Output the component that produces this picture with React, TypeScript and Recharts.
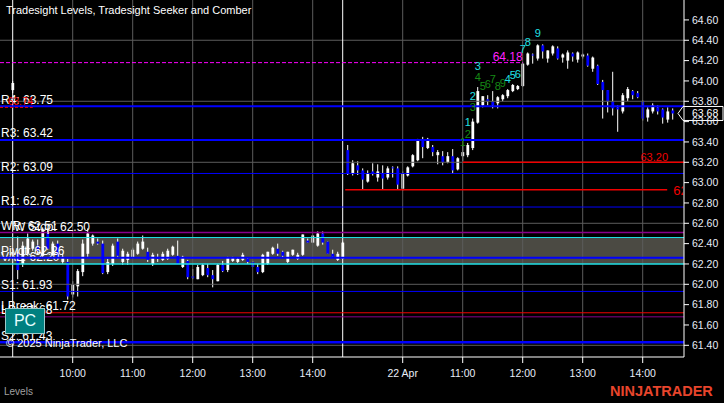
import React from 'react';
import { ComposedChart, Bar, Scatter, XAxis, YAxis, ReferenceLine, ReferenceArea } from 'recharts';

// ---- bar data (5-minute bars, index 0 = prior session last bar) ----
const opens = [
  63.91,
  62.30, 62.20, 62.30, 62.35, 62.38, 62.28, 62.50, 62.30, 62.40, 62.22, 62.22, 61.90, 61.98, 62.12, 62.30, 62.40, 62.42, 62.40, 62.12, 62.20, 62.42, 62.22,
  62.24, 62.26, 62.30, 62.35, 62.32, 62.20, 62.27, 62.24, 62.25, 62.29, 62.28, 62.17, 62.23, 62.08, 62.05, 62.09, 62.16, 62.09, 62.03, 62.19, 62.14, 62.23,
  62.22, 62.24, 62.25, 62.22, 62.17, 62.12, 62.20, 62.30, 62.35, 62.32, 62.22, 62.29, 62.25, 62.29, 62.43, 62.41, 62.38, 62.50, 62.42, 62.30, 62.24, 62.25,
  63.32, 63.09, 63.17, 63.12, 63.01, 63.11, 63.05, 63.09, 63.05, 63.15, 63.14, 62.94, 63.07, 63.16, 63.22, 63.42, 63.34, 63.35, 63.27, 63.26, 63.20, 63.26,
  63.13, 63.26, 63.27, 63.34, 63.59, 63.76, 63.82, 63.80, 63.78, 63.82, 63.85, 63.90, 63.92, 63.95, 64.16, 64.26, 64.22, 64.35, 64.22, 64.27, 64.32, 64.23,
  64.20, 64.27, 64.21, 64.24, 64.25, 64.12, 64.15, 63.99, 63.91, 63.80, 63.74, 63.70, 63.83, 63.90, 63.88, 63.80, 63.64, 63.70, 63.74, 63.72, 63.62, 63.71,
];
const highs = [
  64.00,
  62.47, 62.42, 62.50, 62.44, 62.44, 62.56, 62.55, 62.42, 62.43, 62.30, 62.25, 62.03, 62.15, 62.44, 62.55, 62.49, 62.45, 62.43, 62.25, 62.40, 62.45, 62.35,
  62.32, 62.36, 62.42, 62.48, 62.36, 62.31, 62.30, 62.32, 62.35, 62.38, 62.43, 62.28, 62.24, 62.15, 62.19, 62.20, 62.20, 62.14, 62.20, 62.23, 62.27, 62.27,
  62.26, 62.31, 62.26, 62.23, 62.20, 62.30, 62.32, 62.37, 62.40, 62.33, 62.32, 62.34, 62.31, 62.49, 62.45, 62.48, 62.52, 62.52, 62.42, 62.34, 62.32, 62.42,
  63.37, 63.22, 63.21, 63.14, 63.12, 63.19, 63.18, 63.17, 63.16, 63.16, 63.16, 63.11, 63.16, 63.28, 63.43, 63.45, 63.44, 63.37, 63.32, 63.31, 63.30, 63.33,
  63.25, 63.37, 63.39, 63.63, 63.94, 63.85, 63.86, 63.90, 63.85, 63.87, 63.92, 63.97, 63.96, 64.18, 64.28, 64.27, 64.36, 64.36, 64.30, 64.35, 64.34, 64.27,
  64.30, 64.28, 64.29, 64.27, 64.27, 64.24, 64.16, 64.01, 63.91, 64.09, 63.76, 63.88, 63.94, 63.91, 63.90, 63.81, 63.74, 63.78, 63.76, 63.73, 63.74, 63.73,
];
const lows = [
  63.88,
  62.05, 62.17, 62.28, 62.33, 62.30, 62.26, 62.34, 62.28, 62.25, 62.20, 61.85, 61.87, 61.88, 62.08, 62.27, 62.38, 62.39, 62.10, 62.10, 62.18, 62.27, 62.19,
  62.19, 62.25, 62.29, 62.34, 62.22, 62.18, 62.22, 62.23, 62.24, 62.28, 62.20, 62.16, 62.05, 62.05, 62.05, 62.08, 62.07, 61.97, 62.03, 62.12, 62.12, 62.22,
  62.21, 62.23, 62.20, 62.17, 62.10, 62.11, 62.19, 62.29, 62.28, 62.26, 62.21, 62.28, 62.24, 62.28, 62.41, 62.41, 62.37, 62.39, 62.30, 62.26, 62.23, 62.25,
  63.075, 63.07, 63.075, 62.93, 63.00, 63.07, 63.01, 62.93, 63.03, 63.05, 62.93, 62.92, 63.06, 63.15, 63.21, 63.24, 63.33, 63.26, 63.18, 63.17, 63.19, 63.09,
  63.12, 63.21, 63.25, 63.32, 63.58, 63.74, 63.76, 63.73, 63.73, 63.80, 63.83, 63.89, 63.91, 63.94, 64.15, 64.17, 64.20, 64.22, 64.18, 64.25, 64.21, 64.18,
  64.12, 64.19, 64.18, 64.22, 64.14, 64.09, 63.96, 63.63, 63.69, 63.66, 63.50, 63.68, 63.80, 63.82, 63.83, 63.61, 63.60, 63.68, 63.67, 63.58, 63.59, 63.62,
];
const closes = [
  63.98,
  62.14, 62.38, 62.45, 62.42, 62.33, 62.54, 62.35, 62.40, 62.27, 62.27, 61.88, 62.00, 62.13, 62.40, 62.50, 62.48, 62.40, 62.11, 62.22, 62.38, 62.28, 62.33,
  62.30, 62.34, 62.40, 62.42, 62.24, 62.29, 62.25, 62.30, 62.33, 62.37, 62.20, 62.27, 62.07, 62.06, 62.17, 62.19, 62.09, 62.05, 62.19, 62.13, 62.26, 62.26,
  62.25, 62.29, 62.22, 62.17, 62.12, 62.29, 62.32, 62.36, 62.30, 62.28, 62.32, 62.34, 62.29, 62.49, 62.41, 62.48, 62.50, 62.41, 62.30, 62.27, 62.30, 62.41,
  63.09, 63.19, 63.12, 63.03, 63.09, 63.09, 63.11, 63.04, 63.14, 63.14, 62.98, 63.09, 63.15, 63.27, 63.42, 63.35, 63.43, 63.30, 63.30, 63.20, 63.26, 63.12,
  63.24, 63.30, 63.37, 63.60, 63.90, 63.85, 63.80, 63.76, 63.84, 63.86, 63.91, 63.96, 63.95, 64.17, 64.27, 64.25, 64.35, 64.29, 64.30, 64.34, 64.22, 64.26,
  64.28, 64.24, 64.28, 64.26, 64.15, 64.23, 63.97, 63.91, 63.80, 63.73, 63.72, 63.86, 63.92, 63.86, 63.84, 63.63, 63.72, 63.76, 63.70, 63.64, 63.70, 63.68,
];

// ---- axes ----
const xTickIdx = [12, 24, 36, 48, 60, 78, 90, 102, 114, 126];
const xTickLabels = ['10:00', '11:00', '12:00', '13:00', '14:00', '22 Apr', '11:00', '12:00', '13:00', '14:00'];
const yTicks = [61.4, 61.6, 61.8, 62.0, 62.2, 62.4, 62.6, 62.8, 63.0, 63.2, 63.4, 63.6, 63.8, 64.0, 64.2, 64.4, 64.6];
const yGrid = [61.4, 62.0, 62.6, 63.2, 63.8, 64.4];
const sessionBreaks = [0, 66];

// ---- levels ----
const pivotNames = ['R4', 'R3', 'R2', 'R1', 'Pivot', 'S1', 'S2'];
const pivotValues = [63.75, 63.42, 63.09, 62.76, 62.26, 61.93, 61.43];
const extraNames = ['WR', 'W Stop', 'VAL', 'LBreak', 'LS'];
const extraValues = [62.51, 62.50, 62.20, 61.72, 61.68];
const valueArea = [62.20, 62.46];
const priorClose = 63.74;
const seekerLevel = 64.18;
const targetLevels = [63.20, 62.93];
const lastPrice = 63.68;

// ---- counts (Seeker / Comber) ----
const countBars = [90, 91, 91, 92, 92, 93, 93, 94, 95, 96, 97, 98, 99, 100, 101, 102, 103, 105];
const countPrices = [63.40, 63.60, 63.48, 63.85, 63.74, 64.15, 64.04, 63.95, 63.97, 64.02, 63.95, 63.98, 64.02, 64.06, 64.07, 64.31, 64.38, 64.47];
const countTexts = ['1', '1', '2', '2', '3', '3', '4', '5', '6', '7', '8', '9', '4', '5', '6', '7', '8', '9'];
const countKinds = ['g', 'c', 'g', 'c', 'g', 'c', 'g', 'g', 'g', 'g', 'g', 'g', 'c', 'c', 'c', 'c', 'c', 'c'];

const bars = opens.map((o, i) => ({ i, o, h: highs[i], l: lows[i], c: closes[i] }));
const counts = countBars.map((b, k) => ({ i: b, p: countPrices[k], t: countTexts[k], k: countKinds[k] }));

const X_DOMAIN: [number, number] = [-2.54, 134.26];
const Y_DOMAIN: [number, number] = [61.285, 64.796];
const FONT = 'Arial, "Liberation Sans", sans-serif';
const BLUE = '#0000ff';
const CYAN = '#21e0e6';
const PURPLE = '#8a008a';
const RED = '#f00000';

const Candle = (props: any) => {
  const { x, y, width, height, payload } = props;
  if (!payload || x == null || y == null) return null;
  const cx = x + width / 2;
  const yTop = Math.min(y, y + height);
  const hh = Math.abs(height);
  const { o, h, l, c } = payload;
  const span = h - l;
  const yAt = (p: number) => (span > 0 ? yTop + ((h - p) / span) * hh : yTop);
  const up = c >= o;
  const top = yAt(Math.max(o, c));
  const bot = yAt(Math.min(o, c));
  return (
    <g>
      <line x1={cx} x2={cx} y1={yTop} y2={yTop + hh} stroke="#ffffff" strokeWidth={1} />
      <rect x={cx - 1.3} y={top} width={2.8} height={Math.max(1, bot - top)} fill={up ? '#ffffff' : BLUE} />
    </g>
  );
};

const CountMark = (props: any) => {
  const { cx, cy, payload } = props;
  if (cx == null || cy == null) return null;
  return (
    <text x={cx} y={cy} textAnchor="middle" dominantBaseline="central" fontSize={11} fill={payload.k === 'c' ? CYAN : '#168a16'} fontFamily={FONT}>
      {payload.t}
    </text>
  );
};

const leftLabel = (text: string, color = '#ffffff', size = 12, dx = 1) => (props: any) => {
  const vb = props.viewBox || {};
  return (
    <text x={(vb.x ?? 0) + dx} y={(vb.y ?? 0) - 2.5} fill={color} fontSize={size} fontFamily={FONT}>
      {text}
    </text>
  );
};

const endLabel = (text: string, color: string, size: number, back: number) => (props: any) => {
  const vb = props.viewBox || {};
  return (
    <text x={(vb.x ?? 0) + (vb.width ?? 0) - back} y={(vb.y ?? 0) - 1.5} fill={color} fontSize={size} textAnchor="end" fontFamily={FONT}>
      {text}
    </text>
  );
};

const clippedRightLabel = (text: string) => (props: any) => {
  const vb = props.viewBox || {};
  const xr = (vb.x ?? 0) + (vb.width ?? 0);
  const yy = vb.y ?? 0;
  return (
    <g>
      <defs>
        <clipPath id="clip-6293">
          <rect x={xr} y={yy - 12} width={16} height={24} />
        </clipPath>
      </defs>
      <text x={xr + 6} y={yy + 5} fill={RED} fontSize={13} fontFamily={FONT} clipPath="url(#clip-6293)">
        {text}
      </text>
    </g>
  );
};

const priceTag = (text: string) => (props: any) => {
  const vb = props.viewBox || {};
  const xr = (vb.x ?? 0) + (vb.width ?? 0);
  const yy = vb.y ?? 0;
  const pts = `${xr - 6},${yy} ${xr - 1},${yy - 7} ${xr + 39},${yy - 7} ${xr + 39},${yy + 7} ${xr - 1},${yy + 7}`;
  return (
    <g>
      <polygon points={pts} fill="#000" stroke="#ffffff" strokeWidth={1} />
      <text x={xr + 8} y={yy + 3.5} fill="#ffffff" fontSize={10.5} fontFamily={FONT}>
        {text}
      </text>
    </g>
  );
};

const pivotWidths: Record<string, number> = { R4: 2, R3: 2, R2: 1, R1: 1, Pivot: 2, S1: 1, S2: 2.5 };

export default function App() {
  return (
    <div style={{ position: 'absolute', left: 0, top: 0, width: 724, height: 403, background: '#000', overflow: 'hidden', fontFamily: FONT }}>
      <ComposedChart
        width={724}
        height={403}
        data={bars}
        margin={{ top: 0, right: 0, bottom: 0, left: 0 }}
        style={{ fontFamily: FONT }}
      >
        <XAxis
          dataKey="i"
          type="number"
          domain={X_DOMAIN}
          allowDataOverflow
          ticks={xTickIdx}
          tickFormatter={(v: number) => xTickLabels[xTickIdx.indexOf(v)] ?? ''}
          height={46}
          stroke="#ffffff"
          tickSize={6}
          tickMargin={7}
          tick={{ fill: '#e8eef8', fontSize: 10.5 }}
          interval={0}
        />
        <YAxis
          orientation="right"
          type="number"
          domain={Y_DOMAIN}
          allowDataOverflow
          ticks={yTicks}
          tickFormatter={(v: number) => v.toFixed(2)}
          width={40}
          stroke="#ffffff"
          tickSize={5}
          tickMargin={3}
          tick={{ fill: '#e8eef8', fontSize: 10.5, textAnchor: 'start' }}
          interval={0}
        />

        <ReferenceArea y1={valueArea[0]} y2={valueArea[1]} fill="#4b4a43" fillOpacity={1} stroke="none" ifOverflow="hidden" />

        {yGrid.map((v) => (
          <ReferenceLine key={`hg${v}`} y={v} stroke="#5c5c5c" strokeWidth={1} />
        ))}
        {xTickIdx.map((v) => (
          <ReferenceLine key={`vg${v}`} x={v} stroke="#5c5c5c" strokeWidth={1} />
        ))}
        {sessionBreaks.map((v) => (
          <ReferenceLine key={`sb${v}`} x={v} stroke="#ffffff" strokeWidth={1} />
        ))}

        <ReferenceLine y={valueArea[1]} stroke={CYAN} strokeWidth={1} />
        <ReferenceLine y={extraValues[2]} stroke={CYAN} strokeWidth={1.5} label={leftLabel(`${extraNames[2]}: ${extraValues[2].toFixed(2)}`)} />
        <ReferenceLine y={extraValues[0]} stroke={PURPLE} strokeWidth={1.5} label={leftLabel(`${extraNames[0]}: ${extraValues[0].toFixed(2)}`)} />
        <ReferenceLine y={extraValues[1]} stroke="none" label={leftLabel(`${extraNames[1]}: ${extraValues[1].toFixed(2)}`, '#ffffff', 12, 14)} />
        <ReferenceLine y={extraValues[3]} stroke={RED} strokeWidth={1} label={leftLabel(`${extraNames[3]}: ${extraValues[3].toFixed(2)}`)} />
        <ReferenceLine y={extraValues[4]} stroke={PURPLE} strokeWidth={1} label={leftLabel(`${extraNames[4]}: ${extraValues[4].toFixed(2)}`)} />

        {pivotNames.map((n, k) => (
          <ReferenceLine
            key={n}
            y={pivotValues[k]}
            stroke={BLUE}
            strokeWidth={pivotWidths[n]}
            label={leftLabel(`${n}: ${pivotValues[k].toFixed(2)}`)}
          />
        ))}

        <ReferenceLine
          segment={[{ x: X_DOMAIN[0], y: priorClose }, { x: 4, y: priorClose }]}
          stroke={RED}
          strokeDasharray="3 2"
          strokeWidth={1}
          label={leftLabel(priorClose.toFixed(2), RED, 10, 8)}
        />
        <ReferenceLine
          segment={[{ x: X_DOMAIN[0], y: seekerLevel }, { x: 102, y: seekerLevel }]}
          stroke="#ff00ff"
          strokeDasharray="4 2"
          strokeWidth={1}
          label={endLabel(seekerLevel.toFixed(2), '#ff22ff', 12, 0)}
        />
        <ReferenceLine
          segment={[{ x: 90, y: targetLevels[0] }, { x: X_DOMAIN[1], y: targetLevels[0] }]}
          stroke={RED}
          strokeWidth={1.5}
          label={endLabel(targetLevels[0].toFixed(2), RED, 11, 16)}
        />
        <ReferenceLine
          segment={[{ x: 66.5, y: targetLevels[1] }, { x: 130.9, y: targetLevels[1] }]}
          stroke={RED}
          strokeWidth={1.5}
          label={clippedRightLabel(targetLevels[1].toFixed(2))}
        />

        <Bar dataKey={(d: any) => [d.l, d.h]} shape={<Candle />} barSize={3} isAnimationActive={false} />
        <Scatter data={counts} dataKey="p" shape={<CountMark />} isAnimationActive={false} />

        <ReferenceLine y={lastPrice} stroke="none" label={priceTag(lastPrice.toFixed(2))} />
      </ComposedChart>

      <div style={{ position: 'absolute', left: 6, top: 4, color: '#fff', fontSize: 11, whiteSpace: 'nowrap' }}>
        Tradesight Levels, Tradesight Seeker and Comber
      </div>
      <div style={{ position: 'absolute', left: 5, top: 308, width: 38, height: 24, background: '#008080', border: '1px solid #9ccaca', color: '#e8ffff', fontSize: 16, lineHeight: '24px', textAlign: 'center' }}>
        PC
      </div>
      <div style={{ position: 'absolute', left: 6, top: 337, color: '#fff', fontSize: 11, whiteSpace: 'nowrap' }}>
        © 2025 NinjaTrader, LLC
      </div>
      <div style={{ position: 'absolute', left: 4, top: 386, color: '#a0a0a0', fontSize: 10, whiteSpace: 'nowrap' }}>
        Levels
      </div>
      <div style={{ position: 'absolute', left: 610, top: 383, color: '#e8452c', fontSize: 14.5, fontWeight: 'bold', letterSpacing: 0, whiteSpace: 'nowrap' }}>
        NINJATRADER
      </div>
    </div>
  );
}
